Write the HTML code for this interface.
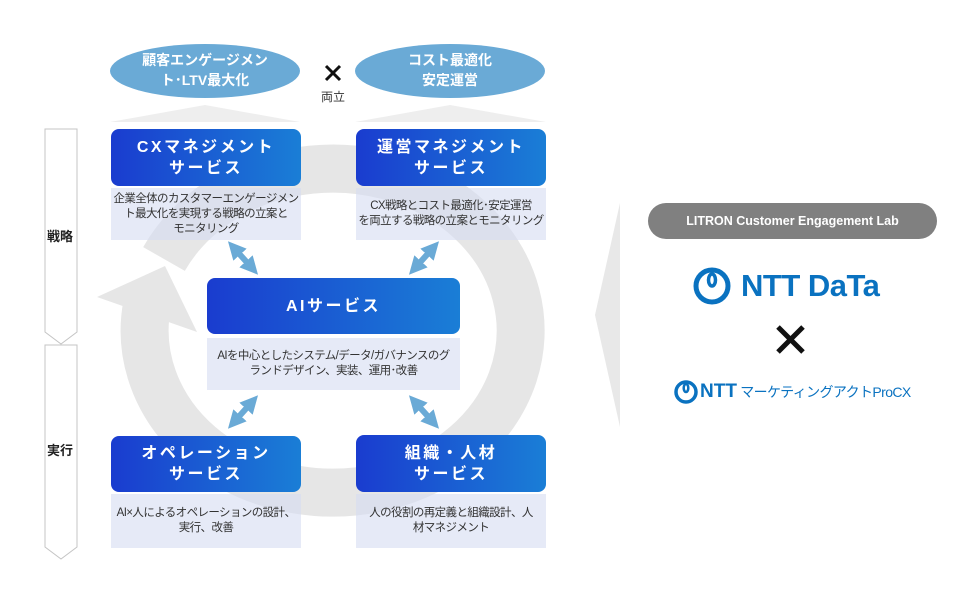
<!DOCTYPE html>
<html><head><meta charset="utf-8"><style>
body{margin:0;width:980px;height:600px;background:#fff;overflow:hidden;position:relative;font-family:"Liberation Sans","Noto Sans CJK JP",sans-serif}
.t{position:absolute;border-radius:8px;background:linear-gradient(90deg,#1a3ccf,#1a7ed6);color:#fff;font-weight:bold;font-size:16px;letter-spacing:2.5px;display:flex;align-items:center;justify-content:center;text-align:center;line-height:21px}
.d{position:absolute;background:rgba(214,220,242,0.6);color:#333;font-size:11.5px;line-height:15px;display:flex;align-items:center;justify-content:center;text-align:center;letter-spacing:-0.6px;white-space:nowrap}
.a{position:absolute;font-size:13px;font-weight:bold;color:#222}
</style></head><body>
<svg width="980" height="600" style="position:absolute;left:0;top:0">
<defs><marker id="m" markerWidth="3" markerHeight="3" refX="1.5" refY="1.5" orient="auto-start-reverse" markerUnits="strokeWidth"><path d="M0,0L3,1.5L0,3Z" fill="#6aaad6"/></marker></defs>
<path d="M147,305 A188,162 0 1 0 164,259" fill="none" stroke="#e6e6e6" stroke-width="48"/>
<polygon points="97,297 165,266 197,332" fill="#e6e6e6"/>
<polygon points="620,203 595,315 620,427" fill="#e8e8e8"/>
<polygon points="110,122 205,105 300,122" fill="#eeeeee"/>
<polygon points="355,122 450,105 546,122" fill="#eeeeee"/>
<ellipse cx="205" cy="71" rx="95" ry="27" fill="#6aaad6"/>
<ellipse cx="450" cy="71" rx="95" ry="27" fill="#6aaad6"/>
<path d="M45,129H77V332L61,344L45,332Z" fill="#fff" stroke="#c4c4c4"/>
<path d="M45,345H77V547L61,559L45,547Z" fill="#fff" stroke="#c4c4c4"/>
<g stroke="#6aaad6" stroke-width="6" marker-start="url(#m)" marker-end="url(#m)">
<line x1="234" y1="248" x2="252" y2="268"/>
<line x1="433" y1="248" x2="415" y2="268"/>
<line x1="252" y1="402" x2="234" y2="422"/>
<line x1="415" y1="402" x2="433" y2="422"/>
</g>
<path d="M326,66L340,80M340,66L326,80" stroke="#111" stroke-width="3"/>
<path d="M778,327L803,352M803,327L778,352" stroke="#111" stroke-width="5"/>
<rect x="648" y="203" width="289" height="36" rx="18" fill="#808080"/>
<circle cx="712" cy="286" r="16" fill="none" stroke="#0a72c0" stroke-width="5"/>
<ellipse cx="712" cy="280" rx="3.5" ry="6" fill="none" stroke="#0a72c0" stroke-width="3.5"/>
<circle cx="686" cy="392" r="10" fill="none" stroke="#0a72c0" stroke-width="3.5"/>
<ellipse cx="686" cy="388" rx="2.3" ry="4" fill="none" stroke="#0a72c0" stroke-width="2.5"/>
</svg>
<div style="position:absolute;left:110px;top:50px;width:190px;text-align:center;color:#fff;font-weight:bold;font-size:14px;line-height:20px">顧客エンゲージメン<br>ト･LTV最大化</div>
<div style="position:absolute;left:355px;top:50px;width:190px;text-align:center;color:#fff;font-weight:bold;font-size:14px;line-height:20px">コスト最適化<br>安定運営</div>
<div style="position:absolute;left:316px;top:88px;width:34px;text-align:center;font-size:12px;color:#333">両立</div>
<div class="a" style="left:47px;top:226px">戦略</div>
<div class="a" style="left:47px;top:440px">実行</div>
<div class="t" style="left:111px;top:129px;width:190px;height:57px">CXマネジメント<br>サービス</div>
<div class="d" style="left:111px;top:188px;width:190px;height:52px">企業全体のカスタマーエンゲージメン<br>ト最大化を実現する戦略の立案と<br>モニタリング</div>
<div class="t" style="left:356px;top:129px;width:190px;height:57px">運営マネジメント<br>サービス</div>
<div class="d" style="left:356px;top:188px;width:190px;height:52px">CX戦略とコスト最適化･安定運営<br>を両立する戦略の立案とモニタリング</div>
<div class="t" style="left:207px;top:278px;width:253px;height:56px">AIサービス</div>
<div class="d" style="left:207px;top:338px;width:253px;height:52px">AIを中心としたシステム/データ/ガバナンスのグ<br>ランドデザイン、実装、運用･改善</div>
<div class="t" style="left:111px;top:436px;width:190px;height:56px">オペレーション<br>サービス</div>
<div class="d" style="left:111px;top:494px;width:190px;height:54px">AI×人によるオペレーションの設計、<br>実行、改善</div>
<div class="t" style="left:356px;top:435px;width:190px;height:57px">組織・人材<br>サービス</div>
<div class="d" style="left:356px;top:494px;width:190px;height:54px">人の役割の再定義と組織設計、人<br>材マネジメント</div>
<div style="position:absolute;left:648px;top:203px;width:289px;height:36px;line-height:36px;text-align:center;color:#fff;font-weight:bold;font-size:12.5px">LITRON Customer Engagement Lab</div>
<div style="position:absolute;left:741px;top:268px;font-size:31px;font-weight:bold;color:#0a72c0;letter-spacing:-0.5px;line-height:36px">NTT DaTa</div>
<div style="position:absolute;left:700px;top:381px;color:#0a72c0;white-space:nowrap;line-height:22px"><b style="font-size:19px">NTT</b><span style="font-size:14px;letter-spacing:-0.6px"> マーケティングアクトProCX</span></div>
</body></html>
